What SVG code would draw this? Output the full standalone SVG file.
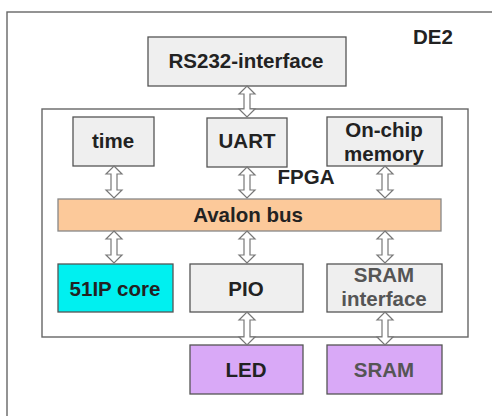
<svg xmlns="http://www.w3.org/2000/svg" width="492" height="416" viewBox="0 0 492 416">
  <style>
    .box { fill: #efefef; stroke: #555; stroke-width: 1.3; }
    .frame { fill: #ffffff; stroke: #666; stroke-width: 1.4; }
    .bus { fill: #fcc99a; stroke: #888; stroke-width: 1.3; }
    .core { fill: #00f0f0; stroke: #555; stroke-width: 1.3; }
    .ext { fill: #d9a9f7; stroke: #555; stroke-width: 1.3; }
    .lbl { font-family: "Liberation Sans", Arial, sans-serif; font-weight: bold; font-size: 20.5px; fill: #222; text-anchor: middle; }
    .dim { fill: #555; }
    .arrow { fill: #ffffff; stroke: #777; stroke-width: 1.2; stroke-linejoin: miter; }
  </style>

  <rect width="492" height="416" fill="#ffffff"/>

  <!-- DE2 board outline -->
  <g id="de2">
    <rect class="frame" x="7" y="12" width="500" height="420"/>
    <text class="lbl" x="433" y="44">DE2</text>
  </g>

  <!-- FPGA outline -->
  <g id="fpga">
    <rect class="frame" x="42" y="109" width="426" height="228"/>
    <text class="lbl" x="306" y="184">FPGA</text>
  </g>

  <g id="rs232">
    <rect class="box" x="148" y="37" width="198" height="49"/>
    <text class="lbl" x="246" y="68">RS232-interface</text>
  </g>

  <g id="time">
    <rect class="box" x="73" y="117" width="81" height="49"/>
    <text class="lbl" x="113" y="148">time</text>
  </g>

  <g id="uart">
    <rect class="box" x="207" y="118" width="80" height="49"/>
    <text class="lbl" x="247" y="148">UART</text>
  </g>

  <g id="onchip">
    <rect class="box" x="327" y="117" width="115" height="49"/>
    <text class="lbl" x="384" y="137">On-chip</text>
    <text class="lbl" x="384" y="161">memory</text>
  </g>

  <g id="avalon">
    <rect class="bus" x="58" y="199" width="383" height="32"/>
    <text class="lbl" x="248" y="222">Avalon bus</text>
  </g>

  <g id="ipcore">
    <rect class="core" x="58" y="264" width="115" height="48"/>
    <text class="lbl" x="115" y="296">51IP core</text>
  </g>

  <g id="pio">
    <rect class="box" x="190" y="264" width="113" height="48"/>
    <text class="lbl" x="246" y="296">PIO</text>
  </g>

  <g id="sramif">
    <rect class="box" x="327" y="264" width="115" height="48"/>
    <text class="lbl dim" x="384" y="282">SRAM</text>
    <text class="lbl dim" x="384" y="306">interface</text>
  </g>

  <g id="led">
    <rect class="ext" x="190" y="345" width="113" height="49"/>
    <text class="lbl" x="246" y="377">LED</text>
  </g>

  <g id="sram">
    <rect class="ext" x="327" y="345" width="115" height="49"/>
    <text class="lbl dim" x="384" y="377">SRAM</text>
  </g>

  <!-- hollow double-headed bus arrows -->
  <g id="connectors">
    <path class="arrow" d="M247,86 L255,94 L250,94 L250,109 L255,109 L247,117 L239,109 L244,109 L244,94 L239,94 Z"/>
    <path class="arrow" d="M114,166 L122,174 L117,174 L117,190 L122,190 L114,198 L106,190 L111,190 L111,174 L106,174 Z"/>
    <path class="arrow" d="M247,167 L255,175 L250,175 L250,190 L255,190 L247,198 L239,190 L244,190 L244,175 L239,175 Z"/>
    <path class="arrow" d="M385,166 L393,174 L388,174 L388,190 L393,190 L385,198 L377,190 L382,190 L382,174 L377,174 Z"/>
    <path class="arrow" d="M114,231 L122,239 L117,239 L117,255 L122,255 L114,263 L106,255 L111,255 L111,239 L106,239 Z"/>
    <path class="arrow" d="M247,231 L255,239 L250,239 L250,255 L255,255 L247,263 L239,255 L244,255 L244,239 L239,239 Z"/>
    <path class="arrow" d="M385,231 L393,239 L388,239 L388,255 L393,255 L385,263 L377,255 L382,255 L382,239 L377,239 Z"/>
    <path class="arrow" d="M247,312 L255,320 L250,320 L250,337 L255,337 L247,345 L239,337 L244,337 L244,320 L239,320 Z"/>
    <path class="arrow" d="M385,312 L393,320 L388,320 L388,337 L393,337 L385,345 L377,337 L382,337 L382,320 L377,320 Z"/>
  </g>
</svg>
